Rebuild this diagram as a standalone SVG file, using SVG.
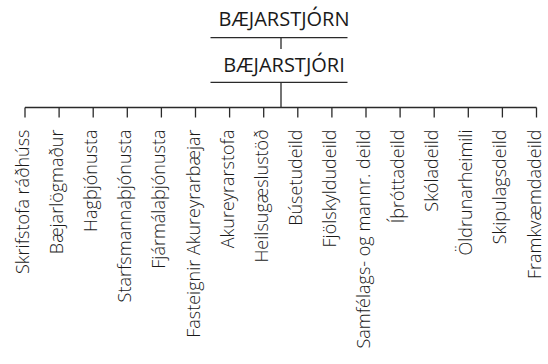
<svg xmlns="http://www.w3.org/2000/svg" width="548" height="364" viewBox="0 0 548 364">
<style>
.t{font-family:"Open Sans","Liberation Sans",sans-serif;fill:#1a1a1a;font-weight:300}
.h{font-size:20px;text-anchor:middle;font-weight:400}
.l{font-size:18px;text-anchor:end}
.c{stroke:#2a2a2a;stroke-width:1.3;fill:none}
</style>
<rect width="548" height="364" fill="#fff"/>
<g id="connectors" class="c">
<path d="M210.5 37.7H347.5M281 37.7V49M210.5 82.3H347.5M281 82.3V107.5M25 107.5H536.5"/>
<path d="M25 107.5V117.5M59.1 107.5V117.5M93.2 107.5V117.5M127.3 107.5V117.5M161.4 107.5V117.5M195.5 107.5V117.5M229.6 107.5V117.5M263.7 107.5V117.5M297.8 107.5V117.5M331.9 107.5V117.5M366 107.5V117.5M400.1 107.5V117.5M434.2 107.5V117.5M468.3 107.5V117.5M502.4 107.5V117.5M536.5 107.5V117.5"/>
</g>
<g id="n-baejarstjorn"><text class="t h" x="284" y="26">BÆJARSTJÓRN</text></g>
<g id="n-baejarstjori"><text class="t h" x="284" y="71.5">BÆJARSTJÓRI</text></g>
<g id="n1"><text class="t l" transform="translate(29,129.5) rotate(-90)">Skrifstofa ráðhúss</text></g>
<g id="n2"><text class="t l" transform="translate(63.1,129.5) rotate(-90)">Bæjarlögmaður</text></g>
<g id="n3"><text class="t l" transform="translate(97.2,129.5) rotate(-90)">Hagþjónusta</text></g>
<g id="n4"><text class="t l" transform="translate(131.3,129.5) rotate(-90)">Starfsmannaþjónusta</text></g>
<g id="n5"><text class="t l" transform="translate(165.4,129.5) rotate(-90)">Fjármálaþjónusta</text></g>
<g id="n6"><text class="t l" transform="translate(199.5,129.5) rotate(-90)">Fasteignir Akureyrarbæjar</text></g>
<g id="n7"><text class="t l" transform="translate(233.6,129.5) rotate(-90)">Akureyrarstofa</text></g>
<g id="n8"><text class="t l" transform="translate(267.7,129.5) rotate(-90)">Heilsugæslustöð</text></g>
<g id="n9"><text class="t l" transform="translate(301.8,129.5) rotate(-90)">Búsetudeild</text></g>
<g id="n10"><text class="t l" transform="translate(335.9,129.5) rotate(-90)">Fjölskyldudeild</text></g>
<g id="n11"><text class="t l" transform="translate(370,129.5) rotate(-90)">Samfélags- og mannr. deild</text></g>
<g id="n12"><text class="t l" transform="translate(404.1,129.5) rotate(-90)">Íþróttadeild</text></g>
<g id="n13"><text class="t l" transform="translate(438.2,129.5) rotate(-90)">Skóladeild</text></g>
<g id="n14"><text class="t l" transform="translate(472.3,129.5) rotate(-90)">Öldrunarheimili</text></g>
<g id="n15"><text class="t l" transform="translate(506.4,129.5) rotate(-90)">Skipulagsdeild</text></g>
<g id="n16"><text class="t l" transform="translate(540.5,129.5) rotate(-90)">Framkvæmdadeild</text></g>
</svg>
